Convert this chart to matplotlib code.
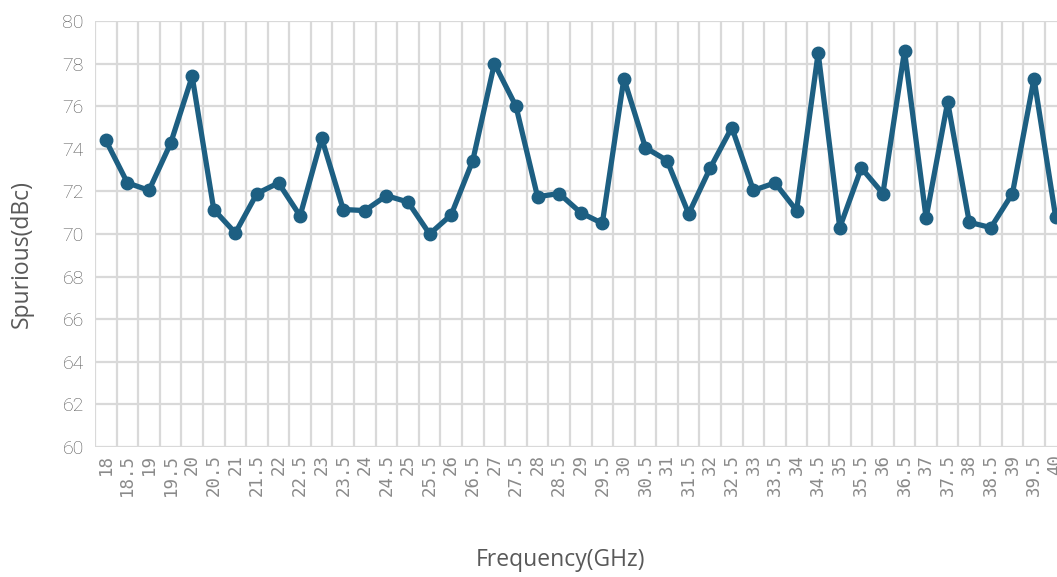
import matplotlib.pyplot as plt
import numpy as np

# frequency points (GHz) and spurious level (dBc)
freq = ["18", "18.5", "19", "19.5", "20", "20.5", "21", "21.5", "22", "22.5",
        "23", "23.5", "24", "24.5", "25", "25.5", "26", "26.5", "27", "27.5",
        "28", "28.5", "29", "29.5", "30", "30.5", "31", "31.5", "32", "32.5",
        "33", "33.5", "34", "34.5", "35", "35.5", "36", "36.5", "37", "37.5",
        "38", "38.5", "39", "39.5", "40"]
spur = [74.4, 72.4, 72.05, 74.25, 77.4, 71.15, 70.05, 71.9, 72.4, 70.85,
        74.5, 71.15, 71.1, 71.8, 71.5, 70.0, 70.9, 73.45, 78.0, 76.0,
        71.75, 71.9, 71.0, 70.5, 77.3, 74.05, 73.45, 70.95, 73.1, 75.0,
        72.05, 72.4, 71.1, 78.5, 70.3, 73.1, 71.9, 78.6, 70.75, 76.2,
        70.55, 70.3, 71.9, 77.3, 70.8]
yticks = [60, 62, 64, 66, 68, 70, 72, 74, 76, 78, 80]

line_col = "#1d5f82"
grid_col = "#d9d9d9"

fig = plt.figure(figsize=(10.57, 5.77), dpi=100)
ax = fig.add_axes([0.0899, 0.2253, 0.919, 0.7383])

x = np.arange(len(freq))
ax.plot(x, spur, color=line_col, lw=3.8, marker="o", ms=9, clip_on=False, zorder=3)

ax.set_xlim(-0.5, len(freq) - 0.5)
ax.set_ylim(60, 80)

# category gridlines sit between points, like an Excel line chart
ax.set_xticks(x)
ax.set_xticklabels(freq, rotation=90, family="DejaVu Sans Mono", fontsize=12.5, color="#8a8a8a")
ax.set_xticks(np.arange(len(freq) + 1) - 0.5, minor=True)
ax.set_yticks(yticks)
ax.set_yticklabels([str(v) for v in yticks], family="Roboto", fontsize=14,
                   color="#555555", fontweight="light")
ax.tick_params(axis="both", which="both", length=0)
ax.tick_params(axis="y", pad=8)
ax.tick_params(axis="x", pad=5)

ax.grid(True, axis="x", which="minor", color=grid_col, lw=1.6)
ax.grid(True, axis="y", which="major", color=grid_col, lw=1.6)
ax.grid(False, axis="x", which="major")
for s in ax.spines.values():
    s.set_visible(False)
ax.set_axisbelow(True)

fig.text(0.53, 0.03, "Frequency(GHz)", family="Open Sans", fontsize=16.5, color="#595959",
         ha="center", va="center")
fig.text(0.021, 0.56, "Spurious(dBc)", family="Open Sans", fontsize=16.5, color="#595959",
         ha="center", va="center", rotation=90)

fig.savefig("out.png", dpi=100)
